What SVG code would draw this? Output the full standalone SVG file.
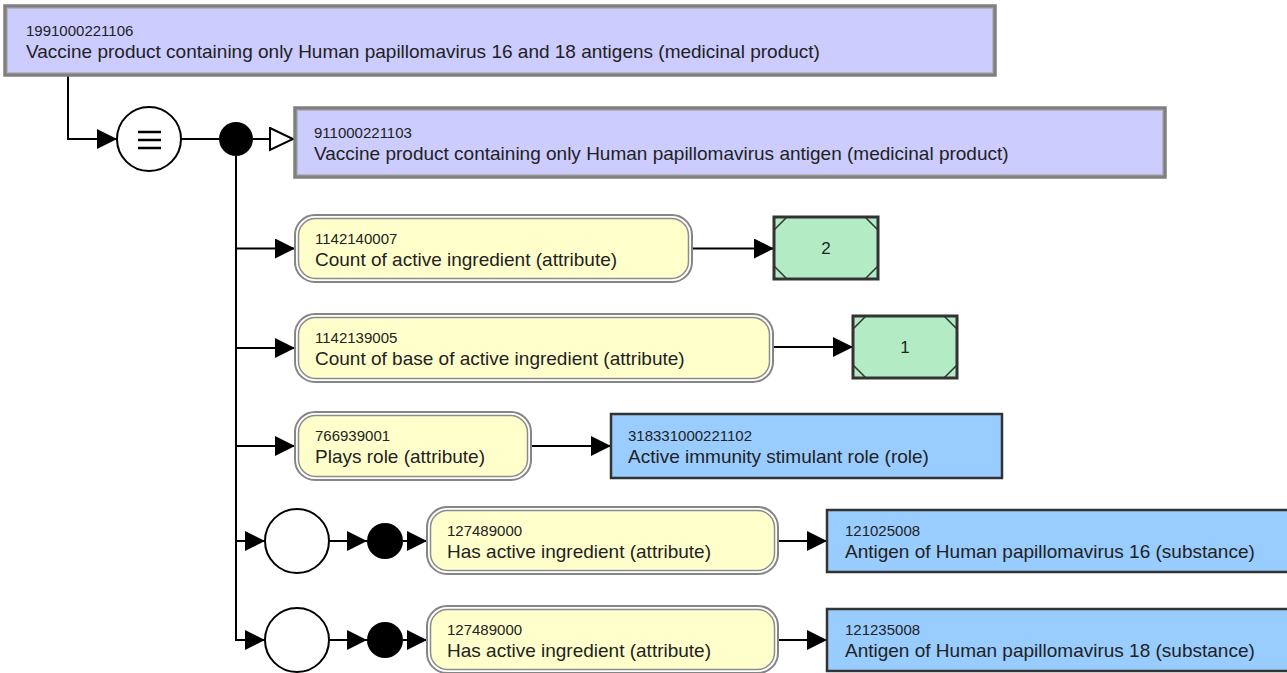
<svg xmlns="http://www.w3.org/2000/svg" width="1287" height="673" viewBox="0 0 1287 673">
<style>
.id{font-family:"Liberation Sans",Arial,sans-serif;font-size:15px;fill:#222}
.lb{font-family:"Liberation Sans",Arial,sans-serif;font-size:19px;fill:#222}
.num{font-family:"Liberation Sans",Arial,sans-serif;font-size:17px;fill:#222;text-anchor:middle}
.c{fill:none;stroke:#000;stroke-width:2}
.po{fill:#ccccff;stroke:#7f7f7f;stroke-width:3.5}
.pi{fill:none;stroke:#b4b4b4;stroke-width:1}
.yo{fill:#ffffff;stroke:#858585;stroke-width:2}
.yi{fill:#ffffcc;stroke:#8c8c8c;stroke-width:1.5}
.g{fill:#b3ebc4;stroke:#333;stroke-width:3}
.gl{stroke:#333;stroke-width:1.5;fill:none}
.b{fill:#99ccff;stroke:#333;stroke-width:2.5}
.oc{fill:#fff;stroke:#000;stroke-width:2}
.dot{fill:#000}
</style>
<defs>
<marker id="arr" markerUnits="userSpaceOnUse" markerWidth="22" markerHeight="22" refX="20" refY="10" orient="auto">
<path d="M0,0 L20,10 L0,20 z" fill="#000"/>
</marker>
<marker id="open" markerUnits="userSpaceOnUse" markerWidth="28" markerHeight="26" refX="25" refY="12" orient="auto">
<path d="M1,1 L24,12 L1,23 z" fill="#fff" stroke="#000" stroke-width="2"/>
</marker>
</defs>
<g id="connectors">
<path class="c" d="M68,75 V139 H117" marker-end="url(#arr)"/>
<path class="c" d="M181,139 H219"/>
<path class="c" d="M253,139 H294" marker-end="url(#open)"/>
<path class="c" d="M236,156 V640 H265" marker-end="url(#arr)"/>
<path class="c" d="M236,248.5 H295" marker-end="url(#arr)"/>
<path class="c" d="M236,348 H295" marker-end="url(#arr)"/>
<path class="c" d="M236,446 H295" marker-end="url(#arr)"/>
<path class="c" d="M236,541 H265" marker-end="url(#arr)"/>
<path class="c" d="M329,541 H367" marker-end="url(#arr)"/>
<path class="c" d="M403,541 H427" marker-end="url(#arr)"/>
<path class="c" d="M329,640 H367" marker-end="url(#arr)"/>
<path class="c" d="M403,640 H427" marker-end="url(#arr)"/>
<path class="c" d="M692,248.5 H774" marker-end="url(#arr)"/>
<path class="c" d="M773,347 H853" marker-end="url(#arr)"/>
<path class="c" d="M531,446 H611" marker-end="url(#arr)"/>
<path class="c" d="M778,541 H827" marker-end="url(#arr)"/>
<path class="c" d="M778,640 H827" marker-end="url(#arr)"/>
</g>
<g id="n1991000221106">
<rect class="po" x="5" y="6" width="990" height="69"/>
<rect class="pi" x="7.5" y="8.5" width="985" height="64"/>
<text class="id" x="26" y="36">1991000221106</text>
<text class="lb" x="26" y="58">Vaccine product containing only Human papillomavirus 16 and 18 antigens (medicinal product)</text>
</g>
<g id="equiv">
<circle class="oc" cx="149" cy="139" r="32"/>
<path d="M138,132 H161 M138,140 H161 M138,148 H161" stroke="#000" stroke-width="2.5"/>
</g>
<g id="conj1"><circle class="dot" cx="236" cy="139" r="17"/></g>
<g id="n911000221103">
<rect class="po" x="295" y="108" width="870" height="69"/>
<rect class="pi" x="297.5" y="110.5" width="865" height="64"/>
<text class="id" x="314" y="138">911000221103</text>
<text class="lb" x="314" y="160">Vaccine product containing only Human papillomavirus antigen (medicinal product)</text>
</g>
<g id="a1142140007">
<rect class="yo" x="295" y="215" width="397" height="67" rx="20"/>
<rect class="yi" x="298.5" y="218.5" width="390" height="60" rx="17"/>
<text class="id" x="315" y="244">1142140007</text>
<text class="lb" x="315" y="266">Count of active ingredient (attribute)</text>
</g>
<g id="v2">
<rect class="g" x="774" y="217" width="104" height="62"/>
<path class="gl" d="M774,230 L787,217 M865,217 L878,230 M774,266 L787,279 M865,279 L878,266"/>
<text class="num" x="826" y="254">2</text>
</g>
<g id="a1142139005">
<rect class="yo" x="295" y="314" width="478" height="68" rx="20"/>
<rect class="yi" x="298.5" y="317.5" width="471" height="61" rx="17"/>
<text class="id" x="315" y="343">1142139005</text>
<text class="lb" x="315" y="365">Count of base of active ingredient (attribute)</text>
</g>
<g id="v1">
<rect class="g" x="853" y="316" width="104" height="62"/>
<path class="gl" d="M853,329 L866,316 M944,316 L957,329 M853,365 L866,378 M944,378 L957,365"/>
<text class="num" x="905" y="353">1</text>
</g>
<g id="a766939001">
<rect class="yo" x="295" y="412" width="236" height="68" rx="20"/>
<rect class="yi" x="298.5" y="415.5" width="229" height="61" rx="17"/>
<text class="id" x="315" y="441">766939001</text>
<text class="lb" x="315" y="463">Plays role (attribute)</text>
</g>
<g id="c318331000221102">
<rect class="b" x="611" y="414" width="391" height="64"/>
<text class="id" x="628" y="441">318331000221102</text>
<text class="lb" x="628" y="463">Active immunity stimulant role (role)</text>
</g>
<g id="group1">
<circle class="oc" cx="297" cy="541" r="32"/>
<circle class="dot" cx="385" cy="541" r="18"/>
</g>
<g id="a127489000a">
<rect class="yo" x="427" y="507" width="351" height="67" rx="20"/>
<rect class="yi" x="430.5" y="510.5" width="344" height="60" rx="17"/>
<text class="id" x="447" y="536">127489000</text>
<text class="lb" x="447" y="558">Has active ingredient (attribute)</text>
</g>
<g id="c121025008">
<rect class="b" x="827" y="510" width="480" height="62"/>
<text class="id" x="845" y="536">121025008</text>
<text class="lb" x="845" y="558">Antigen of Human papillomavirus 16 (substance)</text>
</g>
<g id="group2">
<circle class="oc" cx="297" cy="640" r="32"/>
<circle class="dot" cx="385" cy="640" r="18"/>
</g>
<g id="a127489000b">
<rect class="yo" x="427" y="606" width="351" height="67" rx="20"/>
<rect class="yi" x="430.5" y="609.5" width="344" height="60" rx="17"/>
<text class="id" x="447" y="635">127489000</text>
<text class="lb" x="447" y="657">Has active ingredient (attribute)</text>
</g>
<g id="c121235008">
<rect class="b" x="827" y="609" width="480" height="62"/>
<text class="id" x="845" y="635">121235008</text>
<text class="lb" x="845" y="657">Antigen of Human papillomavirus 18 (substance)</text>
</g>
</svg>
